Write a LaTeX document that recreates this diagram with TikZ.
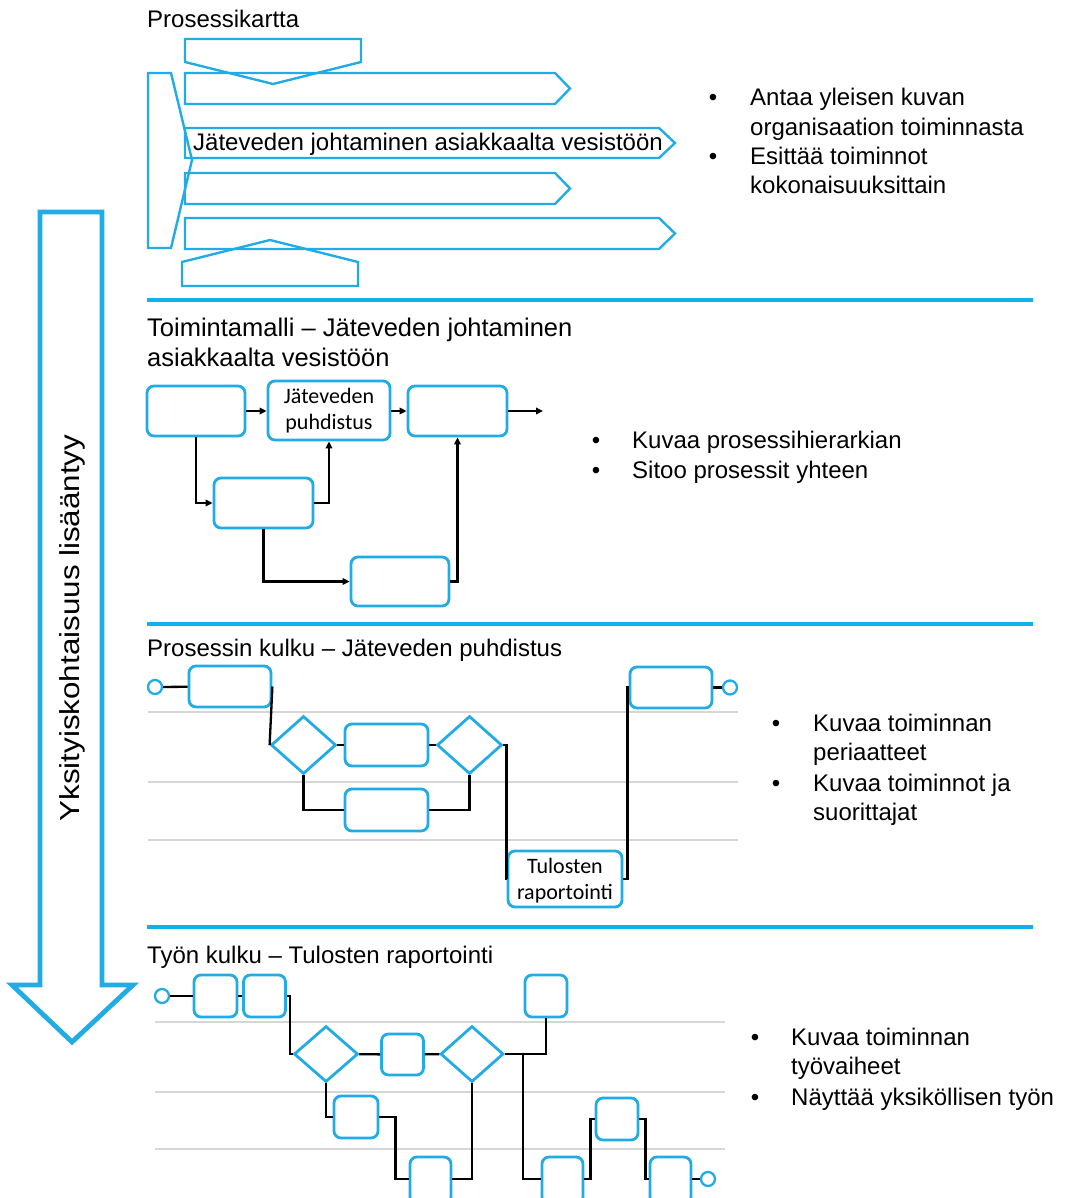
\documentclass[tikz,border=0pt]{standalone}
\usepackage{fontspec}
\setmainfont{Liberation Sans}
\newfontfamily\boxfont{Carlito}
\usetikzlibrary{shapes.geometric,arrows.meta}
\definecolor{pblue}{RGB}{34,172,230}
\definecolor{sblue}{RGB}{16,178,238}
\definecolor{glight}{RGB}{214,214,214}
\begin{document}
\begin{tikzpicture}[x=1pt,y=-1pt,
  shp/.style={draw=pblue,line width=2.4pt,line join=miter},
  box/.style={draw=pblue,line width=2.8pt,rounded corners=7pt,fill=white,inner sep=0pt},
  dia/.style={diamond,draw=pblue,line width=2.8pt,fill=white,inner sep=0pt},
  term/.style={circle,draw=pblue,line width=2.3pt,fill=white,minimum size=14pt,inner sep=0pt},
  conn/.style={draw=black,line width=2.3pt},
  arr/.style={conn,-{Triangle[length=7pt,width=6.5pt]}},
  sep/.style={draw=sblue,line width=3.8pt},
  lane/.style={draw=glight,line width=1.8pt},
  txt/.style={inner sep=0pt,anchor=base west,font=\fontsize{24}{29}\selectfont},
  bul/.style={inner sep=0pt,anchor=base,font=\fontsize{24}{29}\selectfont},
  btxt/.style={font=\boxfont\fontsize{22}{26}\selectfont,align=center}
]
\useasboundingbox[fill=white] (0,0) rectangle (1065,1198);

% ---------- big left arrow ----------
\draw[draw=pblue,line width=4.8pt,line join=miter]
  (40,212) -- (102,212) -- (102,985) -- (133,985) -- (72,1042) -- (12,985) -- (40,985) -- cycle;
\node[rotate=90,inner sep=0pt,font=\fontsize{27.5}{30}\selectfont] (lbl) at (72,628)
  {\scalebox{1.14}[1]{Yksityiskohtaisuus lisääntyy}};

% ---------- separators ----------
\draw[sep] (147,300) -- (1033,300);
\draw[sep] (147,624) -- (1033,624);
\draw[sep] (147,927) -- (1033,927);

% ---------- section 1: Prosessikartta ----------
\node[txt] (t1) at (147,28) {Prosessikartta};
\draw[shp] (185,39) -- (361,39) -- (361,62) -- (273,84) -- (185,62) -- cycle;
\draw[shp] (148,73) -- (171,73) -- (192,160) -- (171,248) -- (148,248) -- cycle;
\draw[shp] (185,73) -- (555,73) -- (570,88.5) -- (555,104) -- (185,104) -- cycle;
\draw[shp] (185,128) -- (659,128) -- (675,143) -- (659,158) -- (185,158) -- cycle;
\draw[shp] (185,173) -- (555,173) -- (570,188.5) -- (555,204) -- (185,204) -- cycle;
\draw[shp] (185,218) -- (659,218) -- (675,233.5) -- (659,249) -- (185,249) -- cycle;
\draw[shp] (182,286) -- (358,286) -- (358,262) -- (270,240) -- (182,262) -- cycle;
\node[txt] (mt) at (193,151) {Jäteveden johtaminen asiakkaalta vesistöön};

\node[bul] (b11) at (713,106) {•};
\node[txt] (l11) at (750,106) {Antaa yleisen kuvan};
\node[txt] (l12) at (750,136) {organisaation toiminnasta};
\node[bul] (b12) at (713,165) {•};
\node[txt] (l13) at (750,165) {Esittää toiminnot};
\node[txt] (l14) at (750,194) {kokonaisuuksittain};

% ---------- section 2: Toimintamalli ----------
\node[txt,font=\fontsize{25.5}{30}\selectfont] (t2a) at (147,336) {Toimintamalli – Jäteveden johtaminen};
\node[txt,font=\fontsize{25.5}{30}\selectfont] (t2b) at (147,366) {asiakkaalta vesistöön};

\node[box,minimum width=98pt,minimum height=50pt] (A) at (196,411) {};
\node[box,btxt,minimum width=122pt,minimum height=59pt] (B) at (329,410.5) {Jäteveden\\puhdistus};
\node[box,minimum width=99pt,minimum height=50pt] (C) at (457.5,411) {};
\node[box,minimum width=99pt,minimum height=50pt] (D) at (263.5,503) {};
\node[box,minimum width=98pt,minimum height=49pt] (E) at (400,581.5) {};
\coordinate (Cout) at (543,411);

\draw[arr] (A.east) -- (B.west |- A.east);
\draw[arr] (B.east |- C.west) -- (C.west);
\draw[arr] (C.east) -- (Cout);
\draw[arr] (A.south) |- (D.west);
\draw[arr] (D.east) -| (B.south);
\draw[arr] (D.south) |- (E.west);
\draw[arr] (E.east) -| (C.south);

\node[bul] (b21) at (596,448) {•};
\node[txt] (l21) at (632,448) {Kuvaa prosessihierarkian};
\node[bul] (b22) at (596,478) {•};
\node[txt] (l22) at (632,478) {Sitoo prosessit yhteen};

% ---------- section 3: Prosessin kulku ----------
\node[txt] (t3) at (147,656) {Prosessin kulku – Jäteveden puhdistus};
\draw[lane] (148,712) -- (738,712);
\draw[lane] (148,782) -- (738,782);
\draw[lane] (148,840) -- (738,840);

\node[term] (s3) at (155,687) {};
\node[box,minimum width=82pt,minimum height=41pt] (P1) at (230,686.5) {};
\node[dia,minimum width=65pt,minimum height=58pt] (Q1) at (303.5,745) {};
\node[box,minimum width=83pt,minimum height=42pt] (P2) at (386.5,745) {};
\node[dia,minimum width=65pt,minimum height=58pt] (Q2) at (469.5,745) {};
\node[box,minimum width=83pt,minimum height=42pt] (P3) at (386.5,810) {};
\node[box,btxt,minimum width=114pt,minimum height=56pt,text depth=-4pt] (P5) at (565,879) {Tulosten\\raportointi};
\node[box,minimum width=82pt,minimum height=41pt] (P4) at (671,687.5) {};
\node[term] (e3) at (730,687.5) {};

\draw[conn] (s3) -- (P1);
\draw[conn] (P1.east) -- (Q1.west);
\draw[conn] (Q1) -- (P2);
\draw[conn] (P2) -- (Q2);
\draw[conn] (Q1.south) |- (P3.west);
\draw[conn] (P3.east) -| (Q2.south);
\draw[conn] (Q2.east) -- ++(3,0) |- (P5.west);
\draw[conn] (P5.east) -- ++(4,0) |- (P4.west);
\draw[conn] (P4) -- (e3);

\node[bul] (b31) at (776,731) {•};
\node[txt] (l31) at (813,731) {Kuvaa toiminnan};
\node[txt] (l32) at (813,760) {periaatteet};
\node[bul] (b32) at (776,791) {•};
\node[txt] (l33) at (813,791) {Kuvaa toiminnot ja};
\node[txt] (l34) at (813,820) {suorittajat};

% ---------- section 4: Työn kulku ----------
\node[txt] (t4) at (147,963) {Työn kulku – Tulosten raportointi};
\draw[lane] (155,1022) -- (725,1022);
\draw[lane] (155,1092) -- (725,1092);
\draw[lane] (155,1149) -- (725,1149);

\node[term] (s4) at (162,996) {};
\node[box,minimum width=43pt,minimum height=42pt] (W1) at (215.5,996) {};
\node[box,minimum width=42pt,minimum height=42pt] (W2) at (264.5,996) {};
\node[dia,minimum width=64pt,minimum height=56pt] (R1) at (326,1054) {};
\node[box,minimum width=42pt,minimum height=41pt] (W3) at (402.5,1054.5) {};
\node[dia,minimum width=63pt,minimum height=56pt] (R2) at (472,1054) {};
\node[box,minimum width=42pt,minimum height=42pt] (W4) at (546,996) {};
\node[box,minimum width=44pt,minimum height=42pt] (W5) at (356,1117) {};
\node[box,minimum width=41pt,minimum height=47pt] (W6) at (430.5,1180.5) {};
\node[box,minimum width=41pt,minimum height=47pt] (W7) at (562.5,1180.5) {};
\node[box,minimum width=42pt,minimum height=42pt] (W8) at (617,1119) {};
\node[box,minimum width=41pt,minimum height=47pt] (W9) at (670.5,1180.5) {};
\node[term] (e4) at (708,1179) {};
\coordinate (J) at (523,1054);
\coordinate (y6) at (0,1179);

\draw[conn] (s4) -- (W1);
\draw[conn] (W1) -- (W2);
\draw[conn] (W2.east) -- ++(3,0) |- (R1.west);
\draw[conn] (R1) -- (W3);
\draw[conn] (W3) -- (R2);
\draw[conn] (R2.east) -| (W4.south);
\draw[conn] (J) |- (W7.west |- y6);
\draw[conn] (R1.south) |- (W5.west);
\draw[conn] (W5.east) -- ++(16,0) |- (W6.west |- y6);
\draw[conn] (W6.east |- y6) -| (R2.south);
\draw[conn] (W7.east |- y6) -- ++(6,0) |- (W8.west);
\draw[conn] (W8.east) -- ++(6,0) |- (W9.west |- y6);
\draw[conn] (W9.east |- y6) -- (e4);

\node[bul] (b41) at (755,1045) {•};
\node[txt] (l41) at (791,1045) {Kuvaa toiminnan};
\node[txt] (l42) at (791,1074) {työvaiheet};
\node[bul] (b42) at (755,1105) {•};
\node[txt] (l43) at (791,1105) {Näyttää yksiköllisen työn};
\end{tikzpicture}
\end{document}
